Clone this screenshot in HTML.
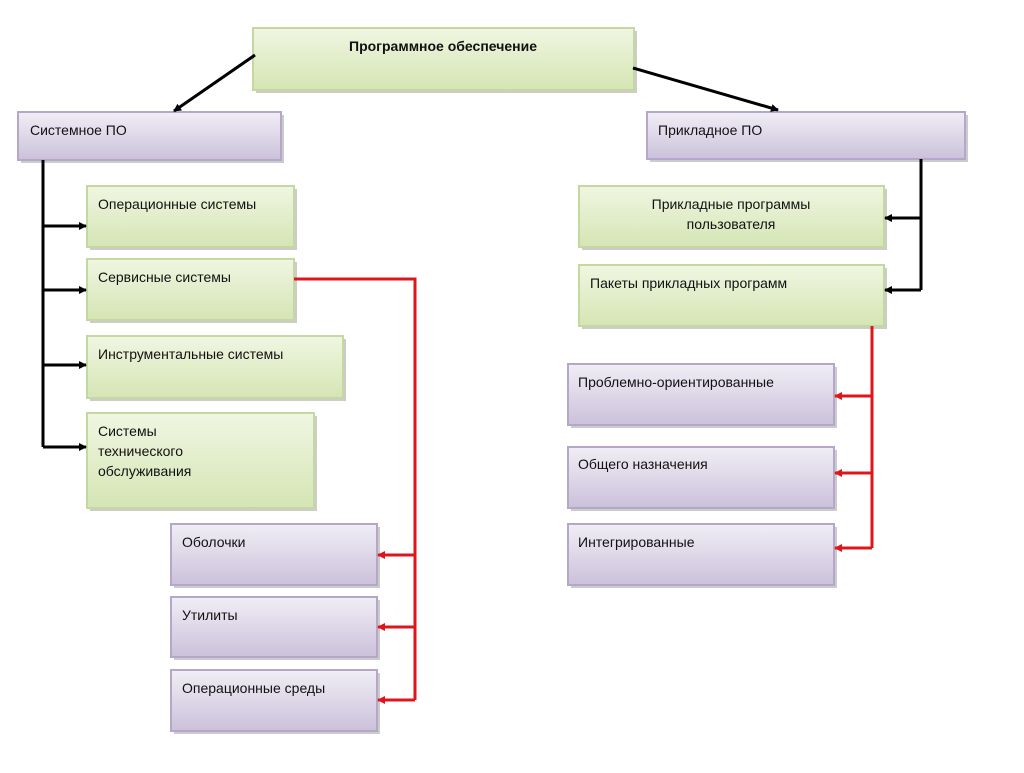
<!DOCTYPE html>
<html><head><meta charset="utf-8"><style>
body{margin:0;background:#fff;}
svg text{font-family:"Liberation Sans",sans-serif;font-size:14px;fill:#111;}
</style></head><body>
<svg width="1024" height="768" xmlns="http://www.w3.org/2000/svg">
<defs>
<linearGradient id="g" x1="0" y1="0" x2="0" y2="1"><stop offset="0" stop-color="#f0f6e2"/><stop offset="1" stop-color="#d5e5b4"/></linearGradient>
<linearGradient id="p" x1="0" y1="0" x2="0" y2="1"><stop offset="0" stop-color="#f1eef6"/><stop offset="1" stop-color="#cbc1da"/></linearGradient>
<marker id="ab" markerWidth="8" markerHeight="8" refX="7" refY="4" orient="auto" markerUnits="userSpaceOnUse"><path d="M0,0 L8,4 L0,8z" fill="#000"/></marker>
<marker id="ar" markerWidth="8" markerHeight="8" refX="7" refY="4" orient="auto" markerUnits="userSpaceOnUse"><path d="M0,0 L8,4 L0,8z" fill="#e0141b"/></marker>
</defs>
<g stroke-width="2">
<!-- shadows -->
<g fill="#9a9a9a" opacity="0.5">
<rect x="256" y="31" width="381" height="62"/>
<rect x="21" y="115" width="263" height="48"/><rect x="650" y="115" width="318" height="47"/>
<rect x="90" y="189" width="207" height="61"/><rect x="90" y="262" width="207" height="61"/><rect x="90" y="339" width="256" height="62"/><rect x="90" y="416" width="227" height="95"/>
<rect x="174" y="527" width="206" height="61"/><rect x="174" y="600" width="206" height="60"/><rect x="174" y="673" width="206" height="61"/>
<rect x="582" y="189" width="305" height="61"/><rect x="582" y="268" width="305" height="61"/>
<rect x="571" y="367" width="266" height="61"/><rect x="571" y="450" width="266" height="61"/><rect x="571" y="527" width="266" height="61"/>
</g>
<g fill="url(#g)" stroke="#c5d8a0">
<rect x="253" y="28" width="381" height="62"/>
<rect x="87" y="186" width="207" height="61"/><rect x="87" y="259" width="207" height="61"/><rect x="87" y="336" width="256" height="62"/><rect x="87" y="413" width="227" height="95"/>
<rect x="579" y="186" width="305" height="61"/><rect x="579" y="265" width="305" height="61"/>
</g>
<g fill="url(#p)" stroke="#b5a7c9">
<rect x="18" y="112" width="263" height="48"/><rect x="647" y="112" width="318" height="47"/>
<rect x="171" y="524" width="206" height="61"/><rect x="171" y="597" width="206" height="60"/><rect x="171" y="670" width="206" height="61"/>
<rect x="568" y="364" width="266" height="61"/><rect x="568" y="447" width="266" height="61"/><rect x="568" y="524" width="266" height="61"/>
</g>
<!-- black connectors -->
<g stroke="#000" stroke-width="3" fill="none">
<line x1="255" y1="55" x2="174" y2="111" marker-end="url(#ab)"/>
<line x1="633" y1="68" x2="778" y2="110" marker-end="url(#ab)"/>
<polyline points="43,160 43,447"/>
<line x1="43" y1="226" x2="86" y2="226" marker-end="url(#ab)"/>
<line x1="43" y1="290" x2="86" y2="290" marker-end="url(#ab)"/>
<line x1="43" y1="365" x2="86" y2="365" marker-end="url(#ab)"/>
<line x1="43" y1="447" x2="86" y2="447" marker-end="url(#ab)"/>
<polyline points="921,159 921,290"/>
<line x1="921" y1="218" x2="885" y2="218" marker-end="url(#ab)"/>
<line x1="921" y1="290" x2="885" y2="290" marker-end="url(#ab)"/>
</g>
<g stroke="#e0141b" stroke-width="3" fill="none">
<polyline points="294,279 415,279 415,700"/>
<line x1="415" y1="555" x2="378" y2="555" marker-end="url(#ar)"/>
<line x1="415" y1="627" x2="378" y2="627" marker-end="url(#ar)"/>
<line x1="415" y1="700" x2="378" y2="700" marker-end="url(#ar)"/>
<polyline points="872,326 872,548"/>
<line x1="872" y1="396" x2="835" y2="396" marker-end="url(#ar)"/>
<line x1="872" y1="473" x2="835" y2="473" marker-end="url(#ar)"/>
<line x1="872" y1="548" x2="835" y2="548" marker-end="url(#ar)"/>
</g>
</g>
<text x="443" y="51" text-anchor="middle" font-weight="bold">Программное обеспечение</text>
<text x="30" y="135">Системное ПО</text>
<text x="658" y="135">Прикладное ПО</text>
<text x="98" y="209">Операционные системы</text>
<text x="98" y="282">Сервисные системы</text>
<text x="98" y="359">Инструментальные системы</text>
<text x="98" y="436">Системы</text>
<text x="98" y="456">технического</text>
<text x="98" y="476">обслуживания</text>
<text x="182" y="547">Оболочки</text>
<text x="182" y="620">Утилиты</text>
<text x="182" y="693">Операционные среды</text>
<text x="731" y="209" text-anchor="middle">Прикладные программы</text>
<text x="731" y="229" text-anchor="middle">пользователя</text>
<text x="590" y="288">Пакеты прикладных программ</text>
<text x="578" y="387">Проблемно-ориентированные</text>
<text x="578" y="469">Общего назначения</text>
<text x="578" y="547">Интегрированные</text>
</svg>
</body></html>
